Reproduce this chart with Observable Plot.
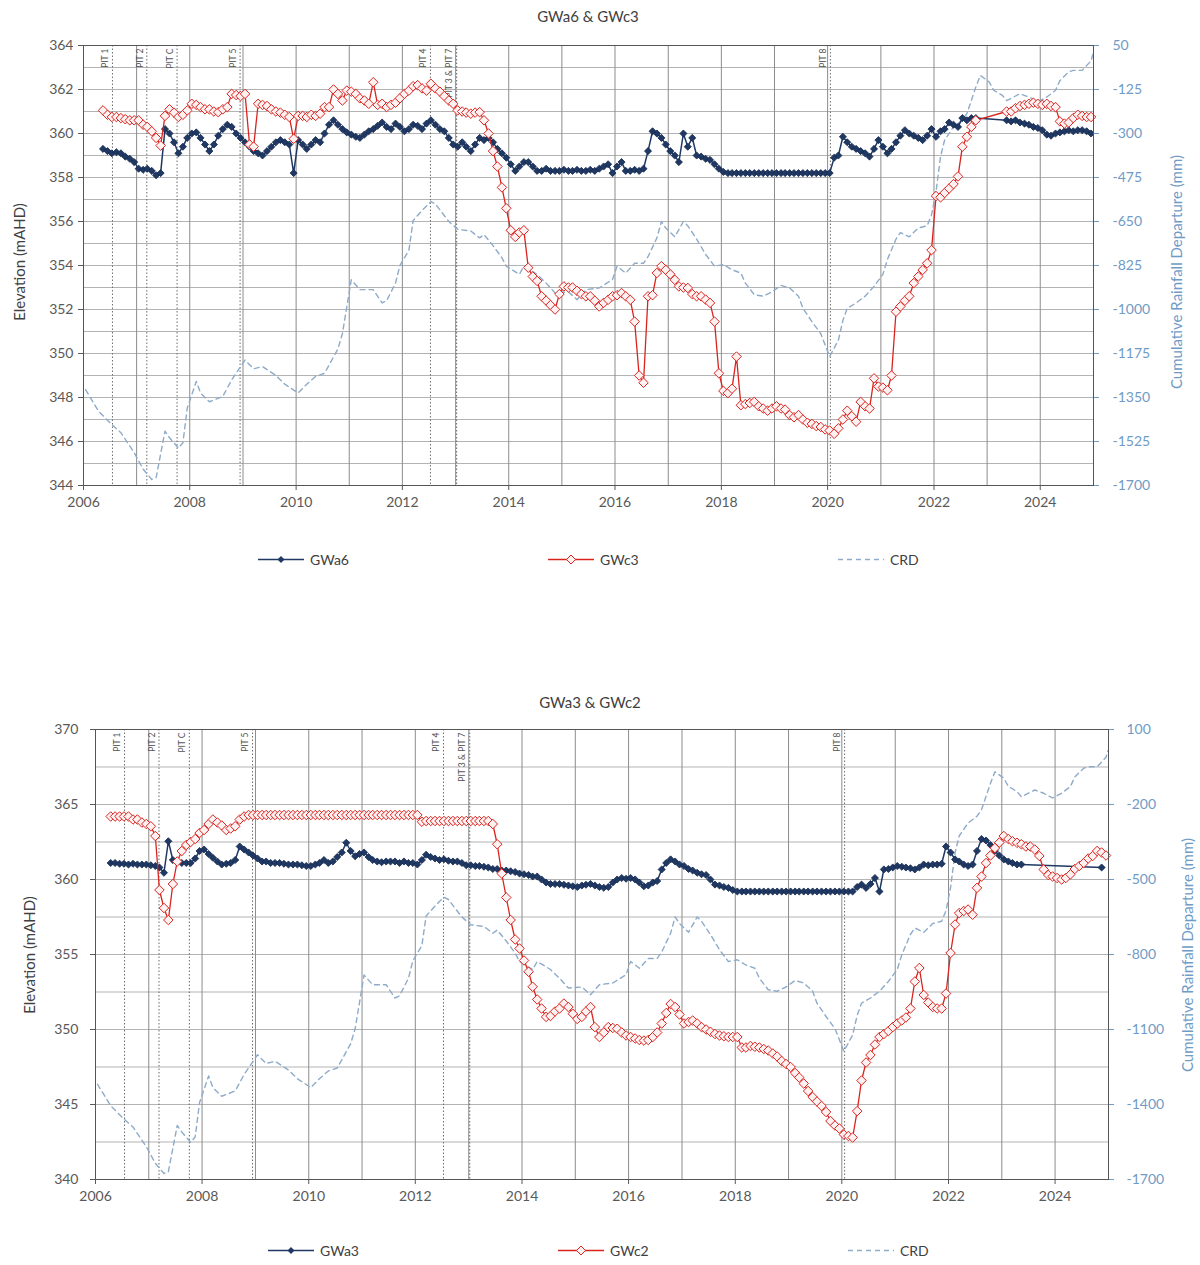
<!DOCTYPE html>
<html><head><meta charset="utf-8">
<script src="https://cdn.jsdelivr.net/npm/d3@7"></script>
<script src="https://cdn.jsdelivr.net/npm/@observablehq/plot@0.6"></script>
<style>
body{margin:0;background:#fff;font-family:Lato,"Open Sans",sans-serif;color:#404040}
#wrap{position:relative;width:1200px;height:1265px;overflow:hidden;background:#fff}
.abs{position:absolute;white-space:nowrap}
.title{font-size:15px;transform:translate(-50%,-50%);color:#404040}
.vt{font-size:15px;transform:translate(-50%,-50%) rotate(-90deg)}
.leg{font-size:14px;display:flex;align-items:center;transform:translateY(-50%);color:#404040}
.leg svg{margin-right:4px}
svg.plot{position:absolute;left:0}
</style></head><body><div id="wrap"></div>
<script>
// ---------------- DATA ----------------
const xTickYears = [2006, 2008, 2010, 2012, 2014, 2016, 2018, 2020, 2022, 2024];
const gridYears = [2007, 2008, 2009, 2010, 2011, 2012, 2013, 2014, 2015, 2016, 2017, 2018, 2019, 2020, 2021, 2022, 2023, 2024];

const topLeftTicks = [344, 346, 348, 350, 352, 354, 356, 358, 360, 362, 364];
const topRightLabels = [-1700, -1525, -1350, -1175, -1000, -825, -650, -475, -300, -125, 50];
const topMinorGrid = [345, 346, 347, 348, 349, 350, 351, 352, 353, 354, 355, 356, 357, 358, 359, 360, 361, 362, 363];

const botLeftTicks = [340, 345, 350, 355, 360, 365, 370];
const botRightLabels = [-1700, -1400, -1100, -800, -500, -200, 100];
const botMinorGrid = [342.5, 345, 347.5, 350, 352.5, 355, 357.5, 360, 362.5, 365, 367.5];

const pitNames = ["PIT 1", "PIT 2", "PIT C", "PIT 5", "PIT 4", "PIT 3 & PIT 7", "PIT 8"];
const pitDates = ["2006-07-19", "2007-03-12", "2007-10-06", "2008-12-12", "2012-07-12", "2013-01-08", "2020-01-20"];

// Cumulative rainfall departure (mm), shared by both charts
const crd = [
 ["2006-01",-1319],["2006-04",-1405],["2006-07",-1458],["2006-09",-1490],["2006-12",-1569],
 ["2007-02",-1635],["2007-04",-1676],["2007-05",-1669],["2007-07",-1484],["2007-08",-1510],
 ["2007-10",-1551],["2007-11",-1530],["2007-12",-1392],["2008-02",-1286],["2008-03",-1332],
 ["2008-05",-1367],["2008-08",-1346],["2008-10",-1280],["2009-01",-1201],["2009-03",-1236],
 ["2009-05",-1227],["2009-08",-1262],["2009-10",-1297],["2010-01",-1332],["2010-03",-1297],
 ["2010-05",-1266],["2010-07",-1254],["2010-10",-1157],["2010-11",-1096],["2011-01",-882],
 ["2011-03",-921],["2011-06",-921],["2011-08",-974],["2011-09",-965],["2011-11",-895],
 ["2011-12",-825],["2012-02",-764],["2012-03",-646],["2012-05",-606],["2012-07",-571],
 ["2012-08",-580],["2012-11",-650],["2013-01",-681],["2013-04",-688],["2013-06",-715],
 ["2013-07",-702],["2013-09",-746],["2013-11",-794],["2013-12",-828],["2014-03",-860],
 ["2014-04",-828],["2014-07",-860],["2014-09",-895],["2014-11",-934],["2015-02",-930],
 ["2015-04",-961],["2015-06",-921],["2015-09",-914],["2015-12",-881],["2016-01",-828],
 ["2016-03",-855],["2016-05",-816],["2016-07",-816],["2016-08",-790],["2016-10",-715],
 ["2016-11",-650],["2016-12",-676],["2017-02",-711],["2017-04",-650],["2017-05",-667],
 ["2017-07",-720],["2017-09",-781],["2017-11",-828],["2018-01",-821],["2018-03",-842],
 ["2018-05",-855],["2018-06",-895],["2018-08",-941],["2018-10",-947],["2018-12",-930],
 ["2019-02",-904],["2019-04",-914],["2019-06",-947],["2019-07",-995],["2019-09",-1048],
 ["2019-11",-1096],["2020-01",-1187],["2020-03",-1122],["2020-04",-1044],["2020-05",-995],
 ["2020-07",-974],["2020-09",-947],["2020-11",-908],["2021-01",-860],["2021-02",-801],
 ["2021-04",-720],["2021-05",-694],["2021-07",-711],["2021-09",-676],["2021-11",-667],
 ["2021-12",-624],["2022-01",-532],["2022-02",-392],["2022-03",-326],["2022-05",-274],
 ["2022-07",-247],["2022-08",-221],["2022-10",-116],["2022-11",-69],["2023-01",-95],
 ["2023-02",-128],["2023-04",-148],["2023-05",-169],["2023-08",-142],["2023-10",-155],
 ["2023-12",-174],["2024-02",-155],["2024-04",-128],["2024-05",-90],["2024-07",-55],
 ["2024-08",-49],["2024-10",-49],["2024-12",-11],["2024-12-28",15]
];

// Monthly groundwater elevations (mAHD); null = no reading
const gwa6Start = "2006-05";
const gwa6 = [
 359.3,359.2,359.1,359.15,359.1,358.95,358.85,358.7,
 358.4,358.35,358.4,358.3,358.1,358.2,360.2,360.0,359.6,359.1,359.4,359.8,
 360.0,360.05,359.8,359.5,359.2,359.5,359.9,360.2,360.4,360.3,360.0,359.8,
 359.6,359.4,359.2,359.1,359.0,359.2,359.4,359.6,359.7,359.6,359.5,358.2,
 359.7,359.5,359.3,359.5,359.7,359.6,360.0,360.4,360.6,360.4,360.2,360.05,
 359.95,359.85,359.8,359.95,360.1,360.2,360.35,360.5,360.3,360.2,360.45,360.3,
 360.1,360.2,360.4,360.35,360.2,360.45,360.6,360.4,360.2,360.1,359.8,359.5,
 359.4,359.6,359.4,359.2,359.5,359.8,359.7,359.8,359.6,359.3,359.1,358.9,
 358.6,358.3,358.5,358.7,358.7,358.5,358.3,358.3,358.4,358.3,358.3,358.3,
 358.35,358.3,358.3,358.35,358.3,358.3,358.35,358.3,358.4,358.5,358.6,358.2,
 358.5,358.7,358.3,358.3,358.35,358.3,358.4,359.2,360.1,360.0,359.8,359.5,
 359.2,359.0,358.7,360.0,359.4,359.8,359.0,358.95,358.85,358.8,358.6,358.4,
 358.25,358.2,358.2,358.2,358.2,358.2,358.2,358.2,358.2,358.2,358.2,358.2,
 358.2,358.2,358.2,358.2,358.2,358.2,358.2,358.2,358.2,358.2,358.2,358.2,
 358.2,358.9,359.0,359.85,359.6,359.4,359.3,359.2,359.1,358.95,359.3,359.7,
 359.4,359.1,359.3,359.6,359.9,360.15,360.0,359.9,359.8,359.7,359.9,360.2,
 359.85,360.1,360.2,360.5,360.4,360.3,360.7,360.6,360.7,360.7,null,null,
 null,null,null,null,360.6,360.55,360.6,360.5,360.45,360.4,360.3,360.25,
 360.15,359.95,359.9,360.0,360.05,360.1,360.15,360.1,360.15,360.15,360.1,360.0
];

const gwc3Start = "2006-05";
const gwc3 = [
 361.05,360.85,360.75,360.75,360.7,360.65,360.6,360.6,
 360.6,360.4,360.3,360.1,359.8,359.45,360.8,361.1,360.95,360.75,360.85,361.05,
 361.35,361.3,361.2,361.1,361.1,361.0,360.97,361.1,361.2,361.8,361.75,361.7,
 361.8,359.5,359.4,361.35,361.3,361.25,361.1,361.0,360.95,360.85,360.75,359.76,
 360.8,360.8,360.75,360.85,360.8,360.9,361.2,361.2,362.0,361.8,361.5,361.95,
 361.9,361.8,361.6,361.5,361.35,362.33,361.3,361.35,361.2,361.3,361.4,361.6,
 361.8,361.95,362.15,362.2,362.05,361.95,362.26,362.05,361.9,361.7,361.5,361.35,
 361.05,361.0,360.95,360.9,360.95,360.97,360.6,360.0,359.2,358.5,357.55,356.6,
 355.6,355.3,355.5,355.6,353.9,353.5,353.3,352.6,352.4,352.2,352.0,352.7,
 353.05,353.0,353.0,352.85,352.7,352.6,352.6,352.4,352.14,352.3,352.44,352.6,
 352.65,352.75,352.6,352.44,351.45,349.0,348.67,352.6,352.65,353.66,353.97,353.8,
 353.6,353.35,353.05,353.0,352.98,352.7,352.6,352.6,352.45,352.3,351.45,349.1,
 348.3,348.2,348.4,349.86,347.65,347.7,347.75,347.8,347.6,347.5,347.4,347.5,
 347.6,347.5,347.45,347.2,347.1,347.2,347.0,346.85,346.8,346.7,346.66,346.55,
 346.5,346.35,346.6,347.0,347.4,347.15,346.9,347.8,347.6,347.5,348.87,348.5,
 348.45,348.33,349.0,351.9,352.14,352.4,352.6,353.2,353.5,353.8,354.1,354.7,
 357.16,357.1,357.3,357.5,357.7,358.05,359.4,359.85,360.3,360.6,null,null,
 null,null,null,null,361.0,361.0,361.15,361.25,361.3,361.35,361.4,361.35,
 361.3,361.35,361.25,361.2,360.55,360.45,360.5,360.7,360.85,360.8,360.75,360.75
];

const gwa3Start = "2006-04";
const gwa3 = [
 361.1,361.1,361.05,361.05,361.0,361.05,361.0,361.0,361.0,
 360.95,360.9,360.8,360.45,362.55,361.3,361.2,361.1,361.1,361.1,361.4,361.9,
 362.0,361.7,361.45,361.2,361.0,361.05,361.1,361.3,362.2,362.0,361.8,361.6,
 361.4,361.2,361.2,361.1,361.1,361.1,361.05,361.0,361.0,361.0,360.95,360.9,
 360.9,361.0,361.1,361.3,361.1,361.2,361.5,361.8,362.45,361.9,361.55,361.7,
 361.8,361.5,361.3,361.2,361.15,361.2,361.2,361.2,361.1,361.2,361.1,361.1,
 361.0,361.3,361.65,361.5,361.4,361.3,361.35,361.25,361.2,361.2,361.1,360.95,
 360.95,360.9,360.9,360.85,360.8,360.7,360.7,360.6,360.6,360.55,360.5,360.4,
 360.35,360.3,360.2,360.2,360.0,359.8,359.7,359.7,359.7,359.65,359.6,359.55,
 359.5,359.6,359.65,359.7,359.6,359.5,359.45,359.5,359.8,360.0,360.1,360.05,
 360.1,360.0,359.8,359.55,359.6,359.8,359.9,360.67,361.1,361.34,361.2,361.0,
 360.9,360.7,360.6,360.45,360.35,360.3,360.0,359.66,359.6,359.5,359.44,359.3,
 359.2,359.2,359.2,359.2,359.2,359.2,359.2,359.2,359.2,359.2,359.2,359.2,
 359.2,359.2,359.2,359.2,359.2,359.2,359.2,359.2,359.2,359.2,359.2,359.2,
 359.2,359.2,359.2,359.5,359.66,359.44,359.7,360.1,359.2,360.67,360.7,360.8,
 360.9,360.85,360.8,360.75,360.67,360.8,361.0,360.95,361.0,361.0,361.05,362.2,
 361.8,361.34,361.2,361.0,360.9,361.0,361.9,362.7,362.6,362.3,361.9,361.6,
 361.34,361.2,361.1,361.0,361.0,null,null,null,null,null,null,null,
 null,null,null,null,null,null,null,null,null,null,360.8,null
];

const gwc2Start = "2006-04";
const gwc2 = [
 364.2,364.2,364.2,364.2,364.2,364.0,364.0,363.8,363.7,
 363.55,362.9,359.3,358.1,357.3,359.7,361.2,361.9,362.3,362.5,362.7,363.1,
 363.3,363.7,364.0,363.8,363.6,363.3,363.4,363.55,364.0,364.2,364.3,364.3,
 364.3,364.3,364.3,364.3,364.3,364.3,364.3,364.3,364.3,364.3,364.3,364.3,
 364.3,364.3,364.3,364.3,364.3,364.3,364.3,364.3,364.3,364.3,364.3,364.3,
 364.3,364.3,364.3,364.3,364.3,364.3,364.3,364.3,364.3,364.3,364.3,364.3,
 364.3,363.85,363.9,363.9,363.9,363.9,363.9,363.9,363.9,363.9,363.9,363.9,
 363.9,363.9,363.9,363.9,363.9,363.7,362.35,360.4,358.8,357.3,356.0,355.4,
 354.6,353.85,352.85,352.0,351.4,350.84,350.9,351.2,351.4,351.73,351.5,351.05,
 350.7,350.84,351.2,351.5,350.16,349.5,349.8,350.16,350.1,350.05,349.8,349.6,
 349.5,349.4,349.3,349.26,349.3,349.5,349.8,350.4,351.1,351.7,351.5,351.0,
 350.4,350.5,350.6,350.4,350.16,350.0,349.85,349.7,349.6,349.55,349.5,349.5,
 349.5,348.8,348.8,348.9,348.85,348.8,348.7,348.6,348.4,348.2,347.9,347.7,
 347.5,347.1,346.8,346.4,345.9,345.5,345.2,344.9,344.5,343.9,343.6,343.4,
 343.0,342.9,342.8,344.56,346.6,347.8,348.3,349.0,349.5,349.7,349.9,350.16,
 350.4,350.6,350.8,351.4,353.2,354.1,352.3,351.8,351.5,351.4,351.4,352.4,
 355.1,357.0,357.76,357.9,358.0,357.65,359.44,360.2,361.1,361.6,362.1,362.46,
 362.9,362.7,362.55,362.45,362.35,362.2,362.2,362.0,361.57,360.67,360.3,360.2,
 360.1,360.0,360.1,360.34,360.7,360.9,361.1,361.4,361.57,361.9,361.8,361.6
];

// ---------------- STYLE ----------------
const FONT = "Lato, 'Open Sans', sans-serif";
const NAVY = "#1f3864";
const RED = "#d9241e";
const RED_FILL = "#fff1f1";
const CRD_COLOR = "#8eabc9";
const BLUE = "#6f9bc6";
const TXT = "#595959";

function monthly(start, vals) {
  const [y, m] = start.split("-").map(Number);
  return vals.map((v, i) => ({date: new Date(Date.UTC(y, m - 1 + i, 15)), v})).filter(d => d.v != null);
}
const crdData = crd.map(([d, v]) => ({date: new Date(d.length === 7 ? d + "-15" : d), v}));
const pits = pitNames.map((name, i) => ({name, date: new Date(pitDates[i])}));
const gridDates = gridYears.map(y => new Date(Date.UTC(y, 0, 1)));
const xTickDates = xTickYears.map(y => new Date(Date.UTC(y, 0, 1)));

function panel(cfg) {
  const A = monthly(cfg.aStart, cfg.a);
  const C = monthly(cfg.cStart, cfg.c);
  const toY = cfg.crdToY;
  const rightOf = d => String(cfg.rightLabels[cfg.leftTicks.indexOf(d)]);
  const svg = Plot.plot({
    width: 1200, height: cfg.height,
    marginTop: cfg.mt, marginBottom: cfg.mb, marginLeft: cfg.ml, marginRight: cfg.mr,
    x: {type: "utc", domain: [new Date(Date.UTC(2006, 0, 1)), new Date(Date.UTC(2025, 0, 1))], axis: null},
    y: {domain: cfg.yDomain, axis: null},
    style: {fontFamily: FONT, fontSize: "14px", color: TXT, background: "white", overflow: "visible"},
    marks: [
      Plot.ruleY(cfg.minor, {stroke: "#b3b3b3", strokeWidth: 1}),
      Plot.ruleX(gridDates, {stroke: "#8c8c8c", strokeWidth: 1}),
      Plot.ruleX(pits, {x: "date", stroke: "#6b6b6b", strokeWidth: 1, strokeDasharray: "1.5,2"}),
      Plot.text(pits, {x: "date", y: () => cfg.yDomain[1], text: "name", rotate: -90, textAnchor: "end",
        dx: -7, dy: 3, fontSize: 8.5, fill: "#555"}),
      Plot.line(crdData, {x: "date", y: d => toY(d.v), stroke: CRD_COLOR, strokeWidth: 1.4, strokeDasharray: "5,4"}),
      Plot.line(A, {x: "date", y: "v", stroke: NAVY, strokeWidth: 1.5}),
      Plot.dot(A, {x: "date", y: "v", symbol: "diamond2", r: 3.2, fill: NAVY, stroke: "#14284d", strokeWidth: 0.8}),
      Plot.line(C, {x: "date", y: "v", stroke: RED, strokeWidth: 1.3}),
      Plot.dot(C, {x: "date", y: "v", symbol: "diamond2", r: 4.3, fill: RED_FILL, stroke: RED, strokeWidth: 1}),
      Plot.frame({stroke: "#555", strokeWidth: 1}),
      Plot.axisY(cfg.leftTicks, {anchor: "left", tickSize: 5, tickPadding: cfg.lpad, label: null, fontSize: 14}),
      Plot.axisY(cfg.leftTicks, {anchor: "right", tickSize: 5, tickPadding: cfg.rpad, tickFormat: rightOf,
        label: null, color: BLUE, fill: BLUE, stroke: BLUE, fontSize: 14, textAnchor: "start"}),
      Plot.axisX(xTickDates, {anchor: "bottom", tickSize: 5, tickPadding: 7, tickFormat: d3.utcFormat("%Y"), label: null, fontSize: 14})
    ]
  });
  svg.classList.add("plot");
  svg.style.top = cfg.top + "px";
  return svg;
}

const wrap = document.getElementById("wrap");
function addText(cls, x, y, text, color) {
  const d = document.createElement("div");
  d.className = "abs " + cls;
  d.style.left = x + "px"; d.style.top = y + "px";
  if (color) d.style.color = color;
  d.textContent = text;
  wrap.appendChild(d);
}
function legendItem(x, y, kind, label) {
  const d = document.createElement("div");
  d.className = "abs leg";
  d.style.left = x + "px"; d.style.top = y + "px";
  let sym = "";
  if (kind === "a") sym = `<line x1="0" y1="8" x2="46" y2="8" stroke="${NAVY}" stroke-width="1.5"/><path d="M23,4.5 L26.5,8 L23,11.5 L19.5,8Z" fill="${NAVY}"/>`;
  if (kind === "c") sym = `<line x1="0" y1="8" x2="46" y2="8" stroke="${RED}" stroke-width="1.3"/><path d="M23,3.5 L27.5,8 L23,12.5 L18.5,8Z" fill="${RED_FILL}" stroke="${RED}"/>`;
  if (kind === "crd") sym = `<line x1="0" y1="8" x2="46" y2="8" stroke="${CRD_COLOR}" stroke-width="1.4" stroke-dasharray="5,4"/>`;
  d.innerHTML = `<svg width="48" height="16">${sym}</svg><span>${label}</span>`;
  wrap.appendChild(d);
}

// Top chart
wrap.appendChild(panel({
  top: 0, height: 530, mt: 45, mb: 45, ml: 83, mr: 107,
  yDomain: [344, 364], leftTicks: topLeftTicks, rightLabels: topRightLabels, minor: topMinorGrid,
  crdToY: v => 344 + (v + 1700) / 87.5, lpad: 5, rpad: 14,
  aStart: gwa6Start, a: gwa6, cStart: gwc3Start, c: gwc3
}));
addText("title", 588, 16, "GWa6 & GWc3");
addText("vt", 19, 262, "Elevation (mAHD)");
addText("vt", 1176, 272, "Cumulative Rainfall Departure (mm)", BLUE);
legendItem(258, 559, "a", "GWa6");
legendItem(548, 559, "c", "GWc3");
legendItem(838, 559, "crd", "CRD");

// Bottom chart
wrap.appendChild(panel({
  top: 690, height: 530, mt: 39, mb: 41, ml: 95, mr: 92,
  yDomain: [340, 370], leftTicks: botLeftTicks, rightLabels: botRightLabels, minor: botMinorGrid,
  crdToY: v => 340 + (v + 1700) / 60, lpad: 12, rpad: 13,
  aStart: gwa3Start, a: gwa3, cStart: gwc2Start, c: gwc2
}));
addText("title", 590, 702, "GWa3 & GWc2");
addText("vt", 29, 955, "Elevation (mAHD)");
addText("vt", 1187, 955, "Cumulative Rainfall Departure (mm)", BLUE);
legendItem(268, 1250, "a", "GWa3");
legendItem(558, 1250, "c", "GWc2");
legendItem(848, 1250, "crd", "CRD");
</script></body></html>
